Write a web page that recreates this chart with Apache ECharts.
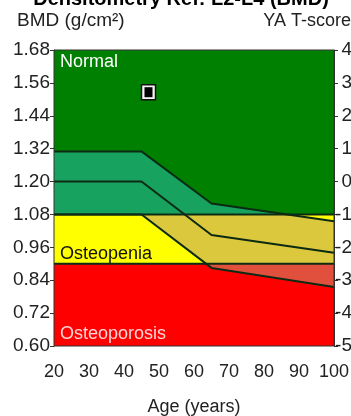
<!DOCTYPE html>
<html>
<head>
<meta charset="utf-8">
<script src="https://cdn.jsdelivr.net/npm/echarts@6/dist/echarts.min.js"></script>
<style>
html,body{margin:0;padding:0;background:#fff;}
#c{width:351px;height:416px;}
</style>
</head>
<body>
<div id="c"></div>
<script>
// ---- data ----
const ages = [20, 45, 65, 100];
const upperBMD = [1.31, 1.31, 1.12, 1.055];   // age-matched +1 SD
const meanBMD  = [1.20, 1.20, 1.005, 0.94];   // age-matched mean
const lowerBMD = [1.08, 1.08, 0.885, 0.815];  // age-matched -1 SD
const zoneLows  = [0.60, 0.90, 1.08];
const zoneHighs = [0.90, 1.08, 1.68];
const zoneNames = ['Osteoporosis', 'Osteopenia', 'Normal'];
const patientAge = [47];
const patientBMD = [1.526];
const bmdMin = 0.60, bmdMax = 1.68, bmdStep = 0.12;
const tMin = -5, tMax = 4, tStep = 1;
const ageMin = 20, ageMax = 100, ageStep = 5;

// ---- styles ----
const zoneColors = ['#ff0000', '#ffff00', '#008000'];
const bandColors = ['#e0503c', '#dcc83c', '#18a25f'];
const lineColor = '#0c2a14';

function interp(xs, ys, x) {
  for (let i = 0; i < xs.length - 1; i++) {
    if (x >= xs[i] && x <= xs[i + 1]) {
      return ys[i] + (ys[i + 1] - ys[i]) * (x - xs[i]) / (xs[i + 1] - xs[i]);
    }
  }
  return ys[ys.length - 1];
}
function crossings(xs, ys, level) {
  const out = [];
  for (let i = 0; i < xs.length - 1; i++) {
    const a = ys[i] - level, b = ys[i + 1] - level;
    if (a * b < 0) out.push(xs[i] + (level - ys[i]) / (ys[i + 1] - ys[i]) * (xs[i + 1] - xs[i]));
  }
  return out;
}
function bandPolygon(lo, hi) {
  let xs = ages.slice();
  [lo, hi].forEach(l => {
    xs = xs.concat(crossings(ages, upperBMD, l), crossings(ages, lowerBMD, l));
  });
  xs = Array.from(new Set(xs)).sort((a, b) => a - b);
  const top = [], bot = [];
  xs.forEach(x => {
    const b = Math.max(interp(ages, lowerBMD, x), lo);
    let t = Math.min(interp(ages, upperBMD, x), hi);
    if (t < b) t = b;
    top.push([x, t]); bot.push([x, b]);
  });
  return top.concat(bot.reverse());
}

const zonePolys = zoneLows.map((lo, i) => [[ageMin, lo], [ageMax, lo], [ageMax, zoneHighs[i]], [ageMin, zoneHighs[i]]]);
const bandPolys = zoneLows.map((lo, i) => bandPolygon(lo, zoneHighs[i]));

function polySeries(polys, colors, z) {
  return {
    type: 'custom',
    z: z,
    silent: true,
    clip: true,
    data: polys.map((p, i) => [p[0][0], p[0][1], i]),
    renderItem: function (params, api) {
      const idx = api.value(2);
      return {
        type: 'polygon',
        shape: { points: polys[idx].map(p => api.coord(p)) },
        style: { fill: colors[idx], stroke: null }
      };
    }
  };
}
function lineSeries(xs, ys, width) {
  return {
    type: 'line', z: 3, silent: true, symbol: 'none',
    data: xs.map((x, i) => [x, ys[i]]),
    lineStyle: { color: lineColor, width: width },
    animation: false
  };
}

const font = '"Liberation Sans", Arial, sans-serif';
const chart = echarts.init(document.getElementById('c'), null, { renderer: 'canvas' });
chart.setOption({
  animation: false,
  backgroundColor: '#ffffff',
  grid: { left: 54, right: 17, top: 50, bottom: 70, show: true, borderColor: '#333', borderWidth: 1, z: 10,
    containLabel: false, outerBoundsMode: 'none' },
  xAxis: {
    type: 'value', min: ageMin, max: ageMax, interval: ageStep,
    axisLine: { lineStyle: { color: '#333', width: 1 } },
    axisTick: { length: 4, lineStyle: { color: '#333' } },
    axisLabel: { margin: 17, fontSize: 18, fontFamily: font, color: '#222',
      formatter: v => (v % 10 === 0 ? String(v) : '') },
    splitLine: { show: false }
  },
  yAxis: [{
    type: 'value', min: bmdMin, max: bmdMax, interval: bmdStep,
    axisLine: { show: true, lineStyle: { color: '#333' } },
    axisTick: { show: true, length: 4, lineStyle: { color: '#333' } },
    axisLabel: { margin: 4, fontSize: 19, fontFamily: font, color: '#222',
      formatter: v => v.toFixed(2) },
    splitLine: { show: false }
  }, {
    type: 'value', min: tMin, max: tMax, interval: tStep, position: 'right',
    axisLine: { show: true, lineStyle: { color: '#333' } },
    axisTick: { show: true, length: 4, lineStyle: { color: '#333' } },
    axisLabel: { margin: 18, align: 'right', fontSize: 19, fontFamily: font, color: '#222' },
    splitLine: { show: false }
  }],
  series: [
    polySeries(zonePolys, zoneColors, 1),
    polySeries(bandPolys, bandColors, 2),
    lineSeries(ages, upperBMD, 2),
    lineSeries(ages, meanBMD, 2),
    lineSeries(ages, lowerBMD, 2),
    lineSeries([ageMin, ageMax], [zoneHighs[1], zoneHighs[1]], 2),
    lineSeries([ageMin, ageMax], [zoneHighs[0], zoneHighs[0]], 2),
    {
      type: 'scatter', z: 5, silent: true,
      data: patientAge.map((a, i) => [a, patientBMD[i]]),
      symbol: 'rect', symbolSize: [14, 15],
      itemStyle: { color: '#f4f4f4', borderColor: '#111', borderWidth: 1.5, opacity: 1 }
    },
    {
      type: 'scatter', z: 6, silent: true,
      data: patientAge.map((a, i) => [a, patientBMD[i]]),
      symbol: 'rect', symbolSize: [8, 10],
      itemStyle: { color: '#000', opacity: 1 }
    }
  ],
  graphic: [
    { type: 'text', z: 100, x: 181, y: -1, style: { text: 'Densitometry Ref: L2-L4 (BMD)', font: 'bold 20px ' + font, fill: '#000', align: 'center', verticalAlign: 'middle' } },
    { type: 'text', z: 100, x: 17, y: 21, style: { text: 'BMD (g/cm²)', font: '19px ' + font, fill: '#222', align: 'left', verticalAlign: 'middle' } },
    { type: 'text', z: 100, x: 351, y: 21, style: { text: 'YA T-score', font: '18px ' + font, fill: '#222', align: 'right', verticalAlign: 'middle' } },
    { type: 'text', z: 100, x: 194, y: 407, style: { text: 'Age (years)', font: '18px ' + font, fill: '#222', align: 'center', verticalAlign: 'middle' } },
    { type: 'text', z: 100, x: 60, y: 62, style: { text: zoneNames[2], font: '18px ' + font, fill: '#ffffff', align: 'left', verticalAlign: 'middle' } },
    { type: 'text', z: 100, x: 60, y: 254, style: { text: zoneNames[1], font: '18px ' + font, fill: '#111', align: 'left', verticalAlign: 'middle' } },
    { type: 'text', z: 100, x: 60, y: 334, style: { text: zoneNames[0], font: '18px ' + font, fill: '#ffd4d4', align: 'left', verticalAlign: 'middle' } }
  ]
});
</script>
</body>
</html>
